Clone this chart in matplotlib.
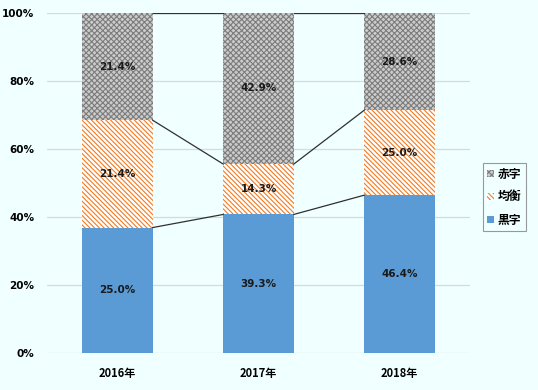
import numpy as np
import matplotlib
matplotlib.use('Agg')
import matplotlib.pyplot as plt
from matplotlib.ticker import PercentFormatter

plt.rcParams['font.family'] = ['Noto Sans CJK JP', 'DejaVu Sans']
plt.rcParams['hatch.linewidth'] = 0.8

# data
years = ['2016年', '2017年', '2018年']
kuroji = [25.0, 39.3, 46.4]    # 黒字
kinkou = [21.4, 14.3, 25.0]    # 均衡
akaji = [21.4, 42.9, 28.6]     # 赤字

series = [
    ('黒字', kuroji),
    ('均衡', kinkou),
    ('赤字', akaji),
]

styles = {
    '黒字': dict(facecolor='#5B9BD5', edgecolor='#5B9BD5', hatch=None),
    '均衡': dict(facecolor='white', edgecolor='#F47A20', hatch='\\\\\\\\\\\\\\'),
    '赤字': dict(facecolor='#cccccc', edgecolor='#7c7c7c', hatch='xxxxxx'),
}

bg = '#F0FFFF'
fig = plt.figure(figsize=(5.38, 3.9), dpi=100, facecolor=bg)
ax = fig.add_axes([0.087, 0.095, 0.787, 0.872], facecolor=bg)

vals = np.array([s[1] for s in series])
totals = vals.sum(axis=0)
frac = vals / totals * 100
x = np.arange(len(years))
width = 0.5

bottom = np.zeros(len(years))
handles = []
for (name, raw), f in zip(series, frac):
    st = styles[name]
    bars = ax.bar(x, f, width, bottom=bottom, color=st['facecolor'],
                  edgecolor=st['edgecolor'], hatch=st['hatch'], linewidth=0,
                  label=name, zorder=2)
    handles.append(bars)
    for xi, b, h, v in zip(x, bottom, f, raw):
        ax.text(xi, b + h / 2, f'{v:.1f}%', ha='center', va='center',
                fontsize=7.5, fontweight='bold', color='#1a1a1a', zorder=4,
                family=['DejaVu Sans'])
    bottom = bottom + f
    # series lines between bars
    for i in range(len(years) - 1):
        ax.plot([x[i] + width / 2, x[i + 1] - width / 2], [bottom[i], bottom[i + 1]],
                color='#303030', linewidth=0.9, zorder=3)

ax.set_xlim(-0.5, len(years) - 0.5)
ax.set_ylim(0, 100)
ax.set_yticks(np.arange(0, 101, 20))
ax.yaxis.set_major_formatter(PercentFormatter(decimals=0))
ax.set_xticks(x)
ax.set_xticklabels(years, fontsize=8, fontweight='bold')
for lab in ax.get_yticklabels():
    lab.set_fontsize(7.5)
    lab.set_fontweight('bold')
    lab.set_family(['DejaVu Sans'])
ax.tick_params(length=0)
ax.tick_params(axis='y', pad=9)
ax.tick_params(axis='x', pad=10)
ax.grid(axis='y', color='#d9d9d9', linewidth=0.9, zorder=0)
for sp in ax.spines.values():
    sp.set_visible(False)

leg = fig.legend(handles[::-1], [s[0] for s in series][::-1], loc='center left',
                 bbox_to_anchor=(0.897, 0.495), frameon=True,
                 fancybox=False, edgecolor='#808080', handlelength=0.6,
                 handleheight=0.6, handletextpad=0.3, labelspacing=0.85,
                 borderpad=0.4, borderaxespad=0,
                 prop={'weight': 'bold', 'size': 8.5})
leg.get_frame().set_facecolor(bg)
leg.get_frame().set_linewidth(0.8)

fig.savefig('out.png', dpi=100, facecolor=bg)
